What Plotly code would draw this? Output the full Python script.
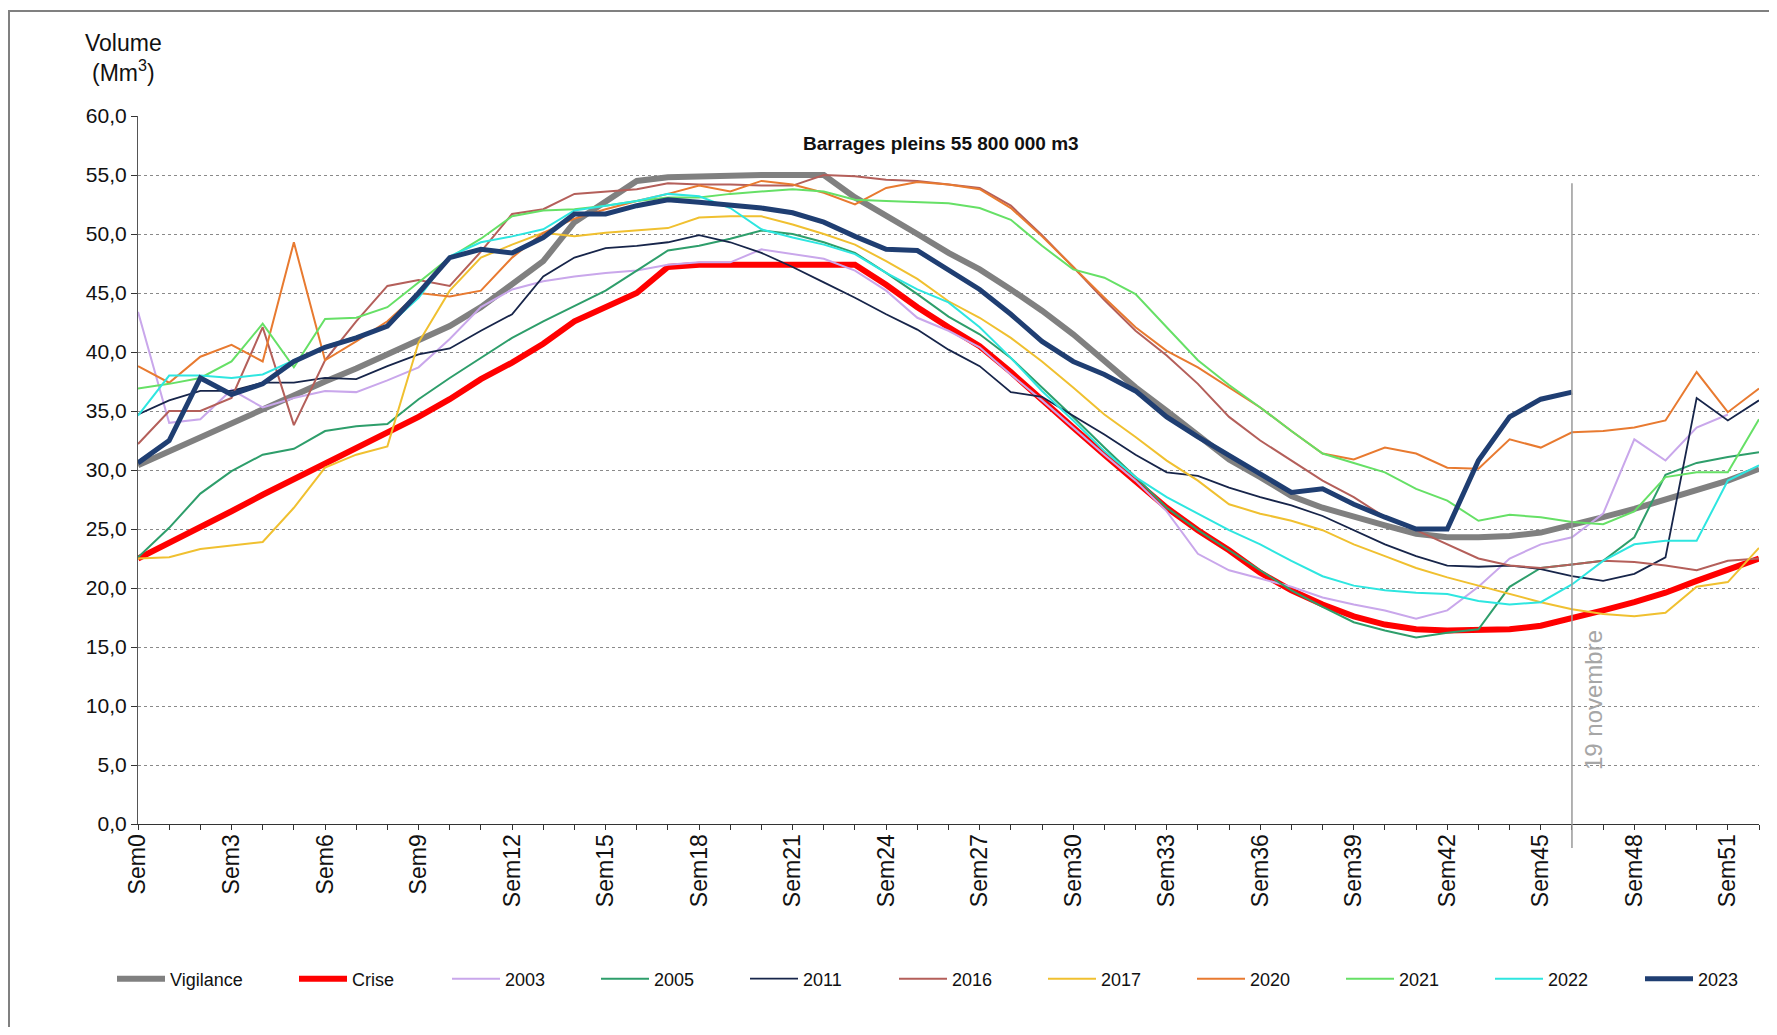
# Volume des barrages par semaine
import plotly.graph_objects as go

weeks = list(range(53))
week_labels = [f"Sem{w}" for w in weeks]
label_weeks = weeks[::3]  # Sem0 ... Sem51

vigilance = [30.4, 31.6, 32.8, 33.9, 35.1, 36.3, 37.5, 38.6, 39.8, 41.0, 42.2, 43.8, 45.7, 47.7, 51.0, 52.8,
             54.5, 54.8, 54.9, 55.0, 55.0, 55.0, 55.0, 53.1, 51.6, 50.0, 48.4, 47.0, 45.3, 43.5, 41.5, 39.3,
             37.0, 35.0, 33.0, 30.9, 29.4, 27.8, 26.8, 26.0, 25.3, 24.6, 24.3, 24.3, 24.4, 24.7, 25.3, 26.0,
             26.7, 27.5, 28.2, 29.1, 30.1]
crise = [22.5, 23.8, 25.2, 26.5, 27.9, 29.2, 30.5, 31.9, 33.2, 34.5, 36.0, 37.7, 39.1, 40.7, 42.6, 43.8,
         45.0, 47.2, 47.4, 47.4, 47.4, 47.4, 47.4, 47.4, 45.7, 43.8, 42.1, 40.5, 38.3, 35.9, 33.6, 31.3,
         29.1, 26.8, 24.9, 23.2, 21.3, 19.8, 18.6, 17.6, 16.9, 16.5, 16.4, 16.4, 16.5, 16.8, 17.4, 18.1,
         18.8, 19.6, 20.6, 21.6, 22.5]
y2003 = [43.4, 34.0, 34.3, 36.8, 35.3, 36.1, 36.7, 36.6, 37.6, 38.7, 41.1, 43.8, 45.3, 46.0, 46.4, 46.7,
         46.9, 47.4, 47.6, 47.6, 48.7, 48.3, 47.9, 46.9, 45.2, 42.9, 41.8, 40.4, 38.1, 35.9, 33.6, 31.3,
         29.1, 26.5, 22.9, 21.5, 20.8, 20.1, 19.2, 18.6, 18.1, 17.4, 18.1, 20.1, 22.5, 23.7, 24.3, 26.3,
         32.6, 30.8, 33.6, 34.7, None]
y2005 = [22.6, 25.1, 28.0, 29.9, 31.3, 31.8, 33.3, 33.7, 33.9, 36.0, 37.8, 39.5, 41.2, 42.6, 43.9, 45.2,
         46.9, 48.6, 49.0, 49.6, 50.3, 50.0, 49.3, 48.4, 46.7, 44.9, 43.0, 41.5, 39.5, 37.0, 34.5, 31.9,
         29.4, 26.8, 24.9, 23.2, 21.5, 19.8, 18.4, 17.1, 16.4, 15.8, 16.2, 16.5, 20.1, 21.7, 22.0, 22.3,
         24.3, 29.6, 30.6, 31.1, 31.5]
y2011 = [34.7, 35.9, 36.7, 36.7, 37.4, 37.4, 37.8, 37.7, 38.8, 39.8, 40.3, 41.8, 43.2, 46.4, 48.0, 48.8,
         49.0, 49.3, 49.9, 49.3, 48.4, 47.2, 45.9, 44.6, 43.2, 41.9, 40.2, 38.8, 36.6, 36.2, 34.6, 33.0,
         31.3, 29.8, 29.5, 28.5, 27.7, 27.0, 26.1, 24.9, 23.7, 22.7, 21.9, 21.8, 21.9, 21.6, 21.0, 20.6,
         21.2, 22.6, 36.1, 34.2, 35.9]
y2016 = [32.2, 35.0, 35.0, 36.1, 42.1, 33.8, 39.3, 42.6, 45.6, 46.1, 45.6, 48.5, 51.7, 52.1, 53.4, 53.6,
         53.8, 54.3, 54.2, 54.2, 54.1, 54.1, 55.0, 54.9, 54.6, 54.5, 54.2, 53.9, 52.4, 49.9, 47.2, 44.4,
         41.8, 39.7, 37.3, 34.5, 32.5, 30.8, 29.1, 27.7, 26.0, 24.9, 23.7, 22.5, 21.9, 21.7, 22.0, 22.3,
         22.2, 21.9, 21.5, 22.3, 22.5]
y2017 = [22.5, 22.6, 23.3, 23.6, 23.9, 26.8, 30.2, 31.3, 32.0, 40.8, 45.2, 48.0, 49.1, 50.1, 49.8, 50.1,
         50.3, 50.5, 51.4, 51.5, 51.5, 50.8, 50.0, 49.1, 47.7, 46.2, 44.3, 42.9, 41.2, 39.2, 37.0, 34.7,
         32.8, 30.8, 29.1, 27.1, 26.3, 25.7, 24.9, 23.7, 22.7, 21.7, 20.9, 20.2, 19.5, 18.8, 18.2, 17.8,
         17.6, 17.9, 20.1, 20.5, 23.4]
y2020 = [38.8, 37.4, 39.6, 40.6, 39.2, 49.3, 39.3, 40.9, 42.6, 45.0, 44.7, 45.2, 48.0, 50.1, 51.3, 52.1,
         52.8, 53.4, 54.1, 53.6, 54.5, 54.2, 53.5, 52.5, 53.9, 54.4, 54.2, 53.8, 52.2, 49.8, 47.2, 44.6,
         42.1, 40.1, 38.7, 37.0, 35.3, 33.3, 31.4, 30.9, 31.9, 31.4, 30.2, 30.1, 32.6, 31.9, 33.2, 33.3,
         33.6, 34.2, 38.3, 34.9, 36.9]
y2021 = [36.9, 37.3, 37.8, 39.2, 42.4, 38.7, 42.8, 42.9, 43.8, 45.9, 48.0, 49.6, 51.5, 52.0, 52.1, 52.4,
         52.8, 53.1, 53.1, 53.4, 53.6, 53.8, 53.6, 52.9, 52.8, 52.7, 52.6, 52.2, 51.2, 49.0, 47.0, 46.3,
         44.9, 42.1, 39.3, 37.2, 35.3, 33.3, 31.4, 30.6, 29.8, 28.4, 27.4, 25.7, 26.2, 26.0, 25.6, 25.4,
         26.5, 29.4, 29.8, 29.8, 34.3]
y2022 = [34.6, 38.0, 38.0, 37.8, 38.1, 39.3, 40.5, 41.3, 42.2, 44.6, 48.1, 49.3, 49.8, 50.4, 52.0, 52.4,
         52.8, 53.4, 53.2, 52.2, 50.4, 49.7, 49.1, 48.3, 46.7, 45.3, 44.2, 42.1, 39.5, 36.7, 34.2, 31.6,
         29.4, 27.7, 26.3, 24.9, 23.7, 22.3, 21.0, 20.2, 19.8, 19.6, 19.5, 18.9, 18.6, 18.8, 20.3, 22.3,
         23.7, 24.0, 24.0, 29.1, 30.4]
y2023 = [30.6, 32.5, 37.8, 36.4, 37.3, 39.2, 40.4, 41.2, 42.2, 45.0, 48.0, 48.7, 48.4, 49.7, 51.7, 51.7,
         52.4, 52.9, 52.7, 52.5, 52.2, 51.8, 51.0, 49.8, 48.7, 48.6, 46.9, 45.3, 43.2, 40.9, 39.2, 38.1,
         36.7, 34.5, 32.8, 31.2, 29.6, 28.1, 28.4, 27.1, 26.0, 25.0, 25.0, 30.8, 34.5, 36.0, 36.6]

nov19_week = 46
full_dams_label = "Barrages pleins 55 800 000 m3"

# name, values, colour, width, legend group (three legends so the row spacing can follow the original)
series = [
    ("Vigilance", vigilance, "#808080", 6, "legend"),
    ("Crise", crise, "#FF0000", 6, "legend"),
    ("2003", y2003, "#C9A7EB", 2, "legend2"),
    ("2005", y2005, "#2E9E6B", 2, "legend2"),
    ("2011", y2011, "#17254A", 1.8, "legend2"),
    ("2016", y2016, "#B45F5A", 2, "legend2"),
    ("2017", y2017, "#F0C030", 2, "legend2"),
    ("2020", y2020, "#E87A30", 2, "legend2"),
    ("2021", y2021, "#66E066", 2, "legend2"),
    ("2022", y2022, "#2EE6E0", 2, "legend2"),
    ("2023", y2023, "#1F3E72", 5, "legend3"),
]

# page has an 8px body margin, figure sits inside it
OFF = 8
W, H = 1761, 1019
ML, MR, MT, MB = 130, 10, 108, 203
font_family = "Liberation Sans, Arial, sans-serif"
ITEM_W = 48
TEXT_GAP = ITEM_W + 10


def px_x(px):
    return (px - OFF - ML) / (W - ML - MR)


def px_y(py):
    return (H - MB - (py - OFF)) / (H - MT - MB)


fig = go.Figure()

for name, values, color, width, leg in series:
    fig.add_trace(go.Scatter(
        x=weeks[:len(values)], y=values, name=name, mode="lines",
        line=dict(color=color, width=width), legend=leg,
    ))

# Frame around the whole picture (only top and left edges are visible)
fig.add_shape(type="rect", xref="paper", yref="paper",
              x0=px_x(9), x1=px_x(1850), y0=px_y(1100), y1=px_y(11),
              line=dict(color="#808080", width=2), layer="below")

# 19 novembre marker
fig.add_shape(type="line", xref="x", yref="paper",
              x0=nov19_week, x1=nov19_week, y0=px_y(848), y1=54.3 / 60,
              line=dict(color="#999999", width=1.5))
fig.add_annotation(x=nov19_week, y=10.5, xref="x", yref="y", text="19 novembre",
                   textangle=-90, showarrow=False, xshift=21,
                   font=dict(size=24, color="#a6a6a6", family=font_family))

fig.add_annotation(x=px_x(941), y=px_y(144), xref="paper", yref="paper",
                   xanchor="center", yanchor="middle",
                   text=f"<b>{full_dams_label}</b>", showarrow=False,
                   font=dict(size=19, color="#111111", family=font_family))

fig.add_annotation(x=px_x(123), y=px_y(58), xref="paper", yref="paper",
                   xanchor="center", yanchor="middle",
                   text="Volume<br>(Mm<sup>3</sup>)", showarrow=False, align="center",
                   font=dict(size=23, color="#111111", family=font_family))


def legend_style(text_x, entry_step):
    # text_x: page x where the first entry's text starts
    return dict(
        orientation="h", x=px_x(text_x - TEXT_GAP), xanchor="left",
        y=px_y(979), yanchor="middle", font=dict(size=18),
        entrywidth=entry_step - TEXT_GAP - 5, entrywidthmode="pixels",
        itemwidth=ITEM_W, tracegroupgap=0, bgcolor="rgba(0,0,0,0)",
    )


fig.update_layout(
    width=W, height=H,
    margin=dict(l=ML, r=MR, t=MT, b=MB),
    paper_bgcolor="white", plot_bgcolor="white",
    separators=", ",
    font=dict(family=font_family, size=20, color="#111111"),
    xaxis=dict(
        range=[0, 52], tickmode="array", tickvals=label_weeks,
        ticktext=[week_labels[w] for w in label_weeks], tickangle=-90,
        ticks="outside", ticklen=5, tickcolor="#333333", ticklabelstandoff=-5,
        minor=dict(ticks="outside", dtick=1, tick0=0, ticklen=5, tickcolor="#333333"),
        showline=True, linecolor="#333333", linewidth=1.2,
        showgrid=False, zeroline=False, tickfont=dict(size=23),
    ),
    yaxis=dict(
        range=[0, 60], dtick=5, tickformat=".1f",
        ticks="outside", ticklen=6, tickcolor="#333333",
        showline=True, linecolor="#555555", linewidth=1.2,
        gridcolor="#8a8a8a", griddash="dot", gridwidth=1,
        zeroline=False, tickfont=dict(size=21),
    ),
    legend=legend_style(170, 182),
    legend2=legend_style(505, 149),
    legend3=legend_style(1698, 110),
)

fig.write_html("out.html")
